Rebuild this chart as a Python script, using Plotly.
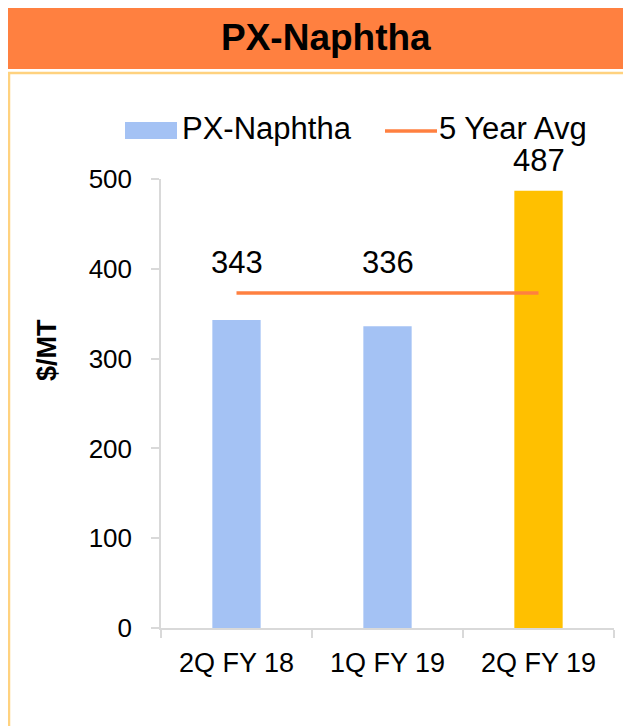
import plotly.graph_objects as go

# ---- data ----
categories = ["2Q FY 18", "1Q FY 19", "2Q FY 19"]
px_naphtha = [343, 336, 487]
five_year_avg = [373, 373, 373]
bar_colors = ["#A4C2F4", "#A4C2F4", "#FFC000"]
y_ticks = [0, 100, 200, 300, 400, 500]

# page offset (body margin) so targets below are in window pixels
OX, OY = 8, 8
W, H = 631, 726
L, T = 161 - OX, 179 - OY
PW, PH = 453, 449
R = W - L - PW
B = H - T - PH


def px(x):
    return (x - OX - L) / PW


def py(y):
    return (T + PH - (y - OY)) / PH


FONT = "Liberation Sans, Arial, sans-serif"
ORANGE = "#FF8040"

fig = go.Figure()
fig.add_trace(go.Bar(
    x=categories, y=px_naphtha, marker=dict(color=bar_colors, line=dict(width=0)),
    width=0.32, name="PX-Naphtha", showlegend=False,
))
fig.add_trace(go.Scatter(
    x=categories, y=five_year_avg, mode="lines", name="5 Year Avg",
    line=dict(color=ORANGE, width=3.5), showlegend=False,
))

annotations = []
for c, v, a in zip(categories, px_naphtha, five_year_avg):
    annotations.append(dict(
        x=c, y=max(v, a), xref="x", yref="y", text=str(v), showarrow=False,
        yanchor="bottom", yshift=12, borderpad=0,
        font=dict(size=31, color="#000000", family=FONT),
    ))

# title
annotations.append(dict(
    x=px(326), y=py(37), xref="paper", yref="paper", text="<b>PX-Naphtha</b>",
    showarrow=False, xanchor="center", yanchor="middle",
    font=dict(size=37, color="#000000", family=FONT),
))
# y-axis title
annotations.append(dict(
    x=px(47), y=py(350), xref="paper", yref="paper", text="<b>$/MT</b>",
    showarrow=False, xanchor="center", yanchor="middle", textangle=-90,
    font=dict(size=27, color="#000000", family=FONT),
))
# legend texts
annotations.append(dict(
    x=px(181), y=py(128), xref="paper", yref="paper", text="PX-Naphtha",
    showarrow=False, xanchor="left", yanchor="middle", borderpad=0,
    font=dict(size=31, color="#000000", family=FONT),
))
annotations.append(dict(
    x=px(438), y=py(128), xref="paper", yref="paper", text="5 Year Avg",
    showarrow=False, xanchor="left", yanchor="middle", borderpad=0,
    font=dict(size=31, color="#000000", family=FONT),
))

shapes = [
    # title bar
    dict(type="rect", xref="paper", yref="paper", x0=px(8), x1=px(660), y0=py(69), y1=py(0),
         fillcolor=ORANGE, line=dict(width=0), layer="below"),
    # outer frame
    dict(type="rect", xref="paper", yref="paper", x0=px(9), x1=px(660), y0=py(760), y1=py(73),
         fillcolor="rgba(0,0,0,0)", line=dict(color="#FFD27F", width=2.5), layer="below"),
    # legend swatches
    dict(type="rect", xref="paper", yref="paper", x0=px(125), x1=px(177), y0=py(139), y1=py(122),
         fillcolor="#A4C2F4", line=dict(width=0)),
    dict(type="line", xref="paper", yref="paper", x0=px(385), x1=px(437), y0=py(131), y1=py(131),
         line=dict(color=ORANGE, width=3.5)),
]

fig.update_layout(
    width=W, height=H,
    margin=dict(l=L, r=R, t=T, b=B, autoexpand=False),
    paper_bgcolor="#FFFFFF", plot_bgcolor="#FFFFFF",
    font=dict(family=FONT, color="#000000"),
    showlegend=False,
    annotations=annotations,
    shapes=shapes,
)
fig.update_xaxes(
    type="category", showline=True, linecolor="#D9D9D9", linewidth=1.5,
    ticks="outside", tickson="boundaries", ticklen=8, tickcolor="#D9D9D9", tickwidth=1.5,
    tickfont=dict(size=27, family=FONT, color="#000000"), showgrid=False,
    ticklabelstandoff=10,
)
fig.update_yaxes(
    range=[0, 500], tickvals=y_ticks, showline=True, linecolor="#D9D9D9", linewidth=1.5,
    ticks="outside", ticklen=8, tickcolor="#D9D9D9", tickwidth=1.5,
    tickfont=dict(size=26, family=FONT, color="#000000"), showgrid=False, zeroline=False,
    ticklabelstandoff=14,
)

fig.write_html("out.html")
